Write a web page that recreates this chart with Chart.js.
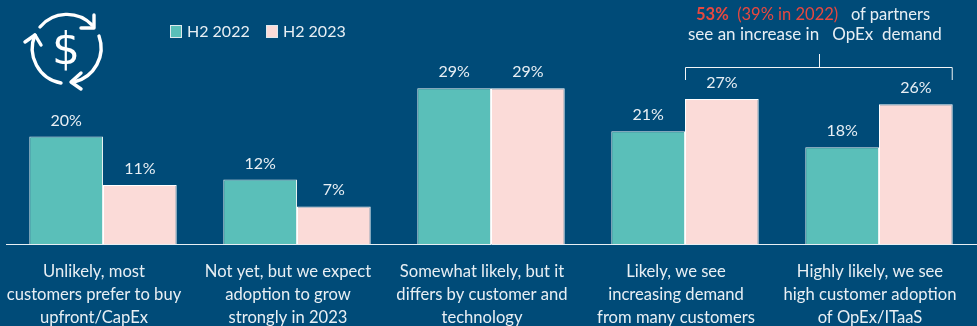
<!DOCTYPE html>
<html>
<head>
<meta charset="utf-8">
<script src="https://cdn.jsdelivr.net/npm/chart.js@4"></script>
<style>
  html, body { margin: 0; padding: 0; background: #004b78; overflow: hidden; }
  #wrap { position: relative; width: 977px; height: 326px; font-family: Lato, "Open Sans", sans-serif; color: #e8eff4; font-size: 16px; }
  #wrap canvas { position: absolute; left: 0; top: 0; }
  #icon { position: absolute; left: 0; top: 0; }
  .legend { position: absolute; top: 21px; line-height: 20px; white-space: nowrap; }
  .legend i { position: absolute; left: -17px; top: 4px; width: 10px; height: 11px; border: 1px solid #dfe9ee; }
  .note { position: absolute; white-space: pre; line-height: 20px; font-size: 17px; }
  .note b, .note span { color: #e8483f; }
</style>
</head>
<body>
<div id="wrap">
  <canvas id="opexChart" width="977" height="326"></canvas>
  <svg id="icon" width="120" height="100" fill="none" stroke="#fff" stroke-width="3.4" stroke-linecap="round" stroke-linejoin="round">
    <path d="M40 27 A35 35 0 0 1 92 25"/>
    <path d="M94 15 L94 28 L81 28"/>
    <path d="M99 36 A35 35 0 0 1 74 82"/>
    <path d="M81 89 L71 82 L81 73"/>
    <path d="M61 83 A35 35 0 0 1 35 35"/>
    <path d="M25 42 L35 35 L41 45"/>
    <text x="66" y="64" text-anchor="middle" fill="#fff" stroke="none" font-family="DejaVu Sans" font-size="44">$</text>
  </svg>
  <div class="legend" style="left:187px"><i id="swatch0"></i><span id="legend0"></span></div>
  <div class="legend" style="left:283px"><i id="swatch1"></i><span id="legend1"></span></div>
  <div class="note" style="left:696px;top:4px;font-size:16.5px"><b>53%</b>  <span>(39% in 2022)</span>   of partners</div>
  <div class="note" style="left:688px;top:24px">see an increase in   OpEx  demand</div>
</div>
<script>
const categories = [
  ["Unlikely, most", "customers prefer to buy", "upfront/CapEx"],
  ["Not yet, but we expect", "adoption to grow", "strongly in 2023"],
  ["Somewhat likely, but it", "differs by customer and", "technology"],
  ["Likely, we see", "increasing demand", "from many customers"],
  ["Highly likely, we see", "high customer adoption", "of OpEx/ITaaS"],
];
const seriesNames = ["H2 2022", "H2 2023"];
const h2022 = [20, 12, 29, 21, 18];
const h2023 = [11, 7, 29, 27, 26];
const seriesColors = ["#5abfb9", "#fbdbd8"];
const textColor = "#e8eff4";

seriesNames.forEach((name, i) => {
  document.getElementById("legend" + i).textContent = name;
  document.getElementById("swatch" + i).style.background = seriesColors[i];
});

// percent labels above each bar, plus the bracket over the two "likely" groups
const barExtras = {
  id: "barExtras",
  afterDatasetsDraw(chart) {
    const c = chart.ctx;
    c.save();
    c.font = "16px Lato, 'Open Sans', sans-serif";
    c.fillStyle = textColor;
    c.textAlign = "center";
    c.textBaseline = "alphabetic";
    chart.data.datasets.forEach((ds, d) => {
      chart.getDatasetMeta(d).data.forEach((bar, i) => {
        c.fillText(ds.data[i] + "%", bar.x, bar.y - 11);
      });
    });

    const meta = chart.getDatasetMeta(1);
    const left = meta.data[3].x - meta.data[3].width / 2;
    const right = meta.data[4].x + meta.data[4].width / 2;
    const mid = (left + right) / 2;
    c.strokeStyle = "#f2f5f7";
    c.lineWidth = 1;
    c.beginPath();
    c.moveTo(left + 0.5, 80);
    c.lineTo(left + 0.5, 67.5);
    c.lineTo(right - 0.5, 67.5);
    c.lineTo(right - 0.5, 80);
    c.moveTo(Math.round(mid) + 0.5, 54);
    c.lineTo(Math.round(mid) + 0.5, 67.5);
    c.stroke();
    c.restore();
  },
};

new Chart(document.getElementById("opexChart").getContext("2d"), {
  type: "bar",
  data: {
    labels: categories,
    datasets: [
      { label: seriesNames[0], data: h2022, backgroundColor: seriesColors[0], borderColor: "#e6f0f0", borderWidth: 1 },
      { label: seriesNames[1], data: h2023, backgroundColor: seriesColors[1], borderColor: "#ffffff", borderWidth: 1 },
    ],
  },
  options: {
    responsive: false,
    animation: false,
    layout: { padding: { left: 6, right: 1, top: 0, bottom: 0 } },
    datasets: { bar: { categoryPercentage: 0.76, barPercentage: 1 } },
    plugins: { legend: { display: false }, tooltip: { enabled: false } },
    scales: {
      x: {
        // the wide edge labels must not squeeze the bars inward
        afterFit(scale) { scale.height = 82; scale.paddingLeft = 0; scale.paddingRight = 0; },
        grid: { display: false, drawTicks: false },
        border: { color: "#e8eff4", width: 1 },
        ticks: {
          color: textColor,
          font: { family: "Lato, 'Open Sans', sans-serif", size: 16.6, lineHeight: 1.39 },
          padding: 16,
          labelOffset: -9,
          maxRotation: 0,
          autoSkip: false,
        },
      },
      y: { display: false, min: 0, max: 45.4 },
    },
  },
  plugins: [barExtras],
});
</script>
</body>
</html>
